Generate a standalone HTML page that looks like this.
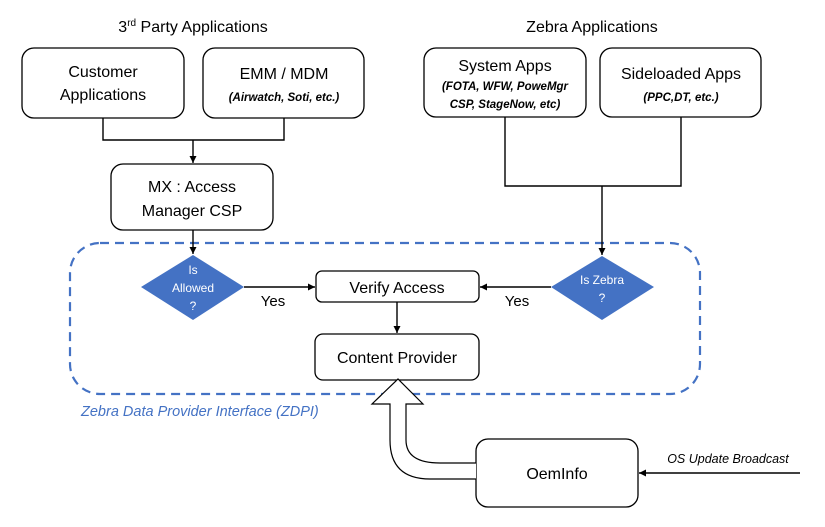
<!DOCTYPE html>
<html><head><meta charset="utf-8"><style>
html,body{margin:0;padding:0;background:#fff}
svg{display:block}
text{font-family:"Liberation Sans",sans-serif;fill:#000}
</style></head><body>
<svg width="825" height="527" viewBox="0 0 825 527" xmlns="http://www.w3.org/2000/svg">
<defs>
<marker id="a" markerWidth="8" markerHeight="8" refX="7" refY="4" orient="auto" markerUnits="userSpaceOnUse">
<path d="M0,0.5 L7,4 L0,7.5 z" fill="#000"/></marker>
</defs>
<text x="193" y="32" font-size="16" text-anchor="middle">3<tspan font-size="10" dy="-6">rd</tspan><tspan dy="6"> Party Applications</tspan></text>
<text x="592" y="32" font-size="16" text-anchor="middle">Zebra Applications</text>

<g fill="#fff" stroke="#000" stroke-width="1.3">
<rect x="22" y="48" width="162" height="70" rx="12"/>
<rect x="203" y="48" width="161" height="70" rx="12"/>
<rect x="424" y="48" width="162" height="69" rx="12"/>
<rect x="600" y="48" width="161" height="69" rx="12"/>
<rect x="111" y="164" width="162" height="66" rx="12"/>
<rect x="316" y="271" width="163" height="31" rx="6"/>
<rect x="315" y="334" width="164" height="46" rx="8"/>
<rect x="476" y="439" width="162" height="68" rx="12"/>
</g>
<rect x="70" y="243" width="630" height="151" rx="30" fill="none" stroke="#4472c4" stroke-width="2.2" stroke-dasharray="9,6"/>

<g fill="none" stroke="#000" stroke-width="1.4">
<path d="M103 118 V140 H284 V118"/>
<path d="M193 140 V163" marker-end="url(#a)"/>
<path d="M193 230 V254" marker-end="url(#a)"/>
<path d="M505 117 V186 H681 V117"/>
<path d="M602 186 V255" marker-end="url(#a)"/>
<path d="M244 287 H315" marker-end="url(#a)"/>
<path d="M551 287 H480" marker-end="url(#a)"/>
<path d="M397 302 V333" marker-end="url(#a)"/>
<path d="M800 473 H639" marker-end="url(#a)"/>
</g>
<polygon points="193,255 244,287 193,320 141,287" fill="#4472c4"/>
<polygon points="602,256 654,287 602,320 551,287" fill="#4472c4"/>
<g font-size="12" text-anchor="middle">
<text x="193" y="274" style="fill:#fff">Is</text>
<text x="193" y="292" style="fill:#fff">Allowed</text>
<text x="193" y="310" style="fill:#fff">?</text>
<text x="602" y="284" style="fill:#fff">Is Zebra</text>
<text x="602" y="302" style="fill:#fff">?</text>
</g>
<text x="273" y="306" font-size="15" text-anchor="middle">Yes</text>
<text x="517" y="306" font-size="15" text-anchor="middle">Yes</text>

<path d="M476 479 H430 Q390 479 390 440 V404 H372 L398 379 L423 404 H406 V440 Q406 463 440 463 H476" fill="#fff" stroke="#000" stroke-width="1.2"/>

<g font-size="16" text-anchor="middle">
<text x="103" y="77">Customer</text>
<text x="103" y="100">Applications</text>
<text x="284" y="79">EMM / MDM</text>
<text x="505" y="71">System Apps</text>
<text x="681" y="79">Sideloaded Apps</text>
<text x="192" y="192">MX : Access</text>
<text x="192" y="216">Manager CSP</text>
<text x="397" y="293">Verify Access</text>
<text x="397" y="363">Content Provider</text>
<text x="557" y="479">OemInfo</text>
</g>
<g font-size="11.5" font-style="italic" font-weight="bold" text-anchor="middle">
<text x="284" y="101">(Airwatch, Soti, etc.)</text>
<text x="505" y="90">(FOTA, WFW, PoweMgr</text>
<text x="505" y="108">CSP, StageNow, etc)</text>
<text x="681" y="101">(PPC,DT, etc.)</text>
</g>
<text x="81" y="416" font-size="14.5" font-style="italic" style="fill:#4472c4">Zebra Data Provider Interface (ZDPI)</text>
<text x="728" y="463" font-size="12.5" font-style="italic" text-anchor="middle">OS Update Broadcast</text>
</svg>
</body></html>
